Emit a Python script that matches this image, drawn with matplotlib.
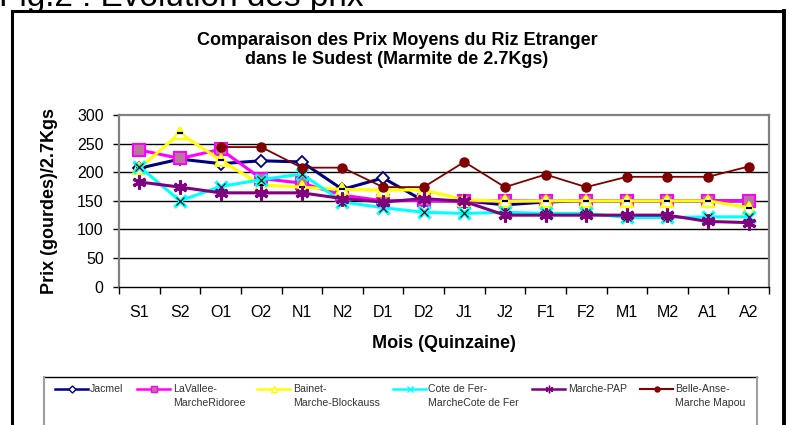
import matplotlib
matplotlib.use("Agg")
import matplotlib.pyplot as plt
from matplotlib.lines import Line2D
import numpy as np

plt.rcParams['font.family'] = ['Liberation Sans', 'DejaVu Sans']

periods = ["S1", "S2", "O1", "O2", "N1", "N2", "D1", "D2",
           "J1", "J2", "F1", "F2", "M1", "M2", "A1", "A2"]

jacmel = [207, 223, 215, 220, 218, 170, 190, 150, 150, 143, 148, 150, 150, 150, 150, 150]
lavallee = [239, 224, 240, 189, 181, 160, 150, 151, 149, 150, 150, 150, 150, 150, 150, 150]
bainet = [207, 268, 221, 178, 174, 170, 169, 169, 152, 149, 150, 150, 150, 150, 150, 138]
cotedefer = [210, 150, 175, 187, 197, 148, 138, 130, 128, 130, 128, 128, 121, 121, 122, 122]
pap = [183, 174, 164, 164, 164, 154, 148, 154, 149, 125, 125, 125, 125, 125, 114, 112]
belleanse = [np.nan, np.nan, 244, 244, 208, 208, 174, 174, 218, 174, 196, 174, 192, 192, 192, 210]

labels = ["Jacmel", "LaVallee-\nMarcheRidoree", "Bainet-\nMarche-Blockauss",
          "Cote de Fer-\nMarcheCote de Fer", "Marche-PAP", "Belle-Anse-\nMarche Mapou"]

title = "Comparaison des Prix Moyens du Riz Etranger\ndans le Sudest (Marmite de 2.7Kgs)"
ylabel = "Prix (gourdes)/2.7Kgs"
xlabel = "Mois (Quinzaine)"
fig_caption = "Fig.2 : Evolution des prix"

W, H = 789, 425
fig = plt.figure(figsize=(W / 100, H / 100), dpi=100)

def fx(px):
    return px / W

def fy(py):
    return 1 - py / H

ax = fig.add_axes([fx(119), fy(286.7), fx(769) - fx(119), fy(115) - fy(286.7)])

x = np.arange(len(periods))

styles = [
    dict(color="#000080", lw=2.2, marker="D", ms=6.5, mfc="white", mec="#000080", mew=1.3),
    dict(color="#FF00FF", lw=2.2, marker="s", ms=8, mfc="#B87898", mec="#FF00FF", mew=1.5),
    dict(color="#FFFF00", lw=2.2, marker="^", ms=9, mfc="white", mec="#FFFF00", mew=1.5),
    dict(color="#00FFFF", lw=2.2, marker="x", ms=8, mec="#00FFFF", mew=2.5),
    dict(color="#800080", lw=2.2, marker=(6, 2, 0), ms=10, mec="#800080", mew=2.2),
    dict(color="#800000", lw=1.3, marker="o", ms=6.5, mfc="#800000", mec="#800000", mew=1),
]
series = [jacmel, lavallee, bainet, cotedefer, pap, belleanse]

for i, (vals, st) in enumerate(zip(series, styles)):
    ax.plot(x, vals, zorder=3 + i, **st)
    if i == 2:
        ax.plot(x, vals, ls="none", marker="_", ms=5, mec="black", mew=1.6, zorder=3 + i)
    if i == 3:
        ax.plot(x, vals, ls="none", marker="x", ms=6, mec="black", mew=0.8, zorder=3 + i)

ax.set_xlim(-0.5, len(periods) - 0.5)
ax.set_ylim(0, 300)
ax.set_yticks(np.arange(0, 301, 50))
ax.set_xticks(np.arange(-0.5, len(periods), 1))
ax.set_xticklabels([])
ax.set_xticks(x, minor=True)
ax.set_xticklabels(periods, minor=True, fontsize=11.5)
ax.tick_params(axis="x", which="major", direction="out", length=5, width=1, color="black")
ax.tick_params(axis="x", which="minor", length=0, pad=13)
ax.tick_params(axis="y", direction="out", length=4, width=1, color="black", labelsize=11.5, pad=7)

for yv in range(50, 300, 50):
    ax.axhline(yv, color="black", lw=1, zorder=1)

for side in ["left", "top", "right"]:
    ax.spines[side].set_color("#808080")
    ax.spines[side].set_linewidth(1.6)
ax.spines["bottom"].set_color("black")
ax.spines["bottom"].set_linewidth(1)

ax.set_xlabel(xlabel, fontsize=13, fontweight="bold", labelpad=11)
ax.set_ylabel(ylabel, fontsize=13, fontweight="bold", labelpad=14)

fig.text(fx(397), fy(50), title, ha="center", va="center", fontsize=13,
         fontweight="bold", linespacing=1.15)

fig.text(fx(-1), fy(6), fig_caption, ha="left", va="baseline", fontsize=24)

# outer frame
fig.add_artist(Line2D([fx(12), fx(12)], [fy(11), fy(430)], color="black", lw=2.2))
fig.add_artist(Line2D([fx(12), fx(784)], [fy(11), fy(11)], color="black", lw=2.2))
fig.add_artist(Line2D([fx(784), fx(784)], [fy(11), fy(430)], color="black", lw=2.8))

# legend box
fig.add_artist(Line2D([fx(44), fx(757)], [fy(377), fy(377)], color="black", lw=1))
fig.add_artist(Line2D([fx(44), fx(44)], [fy(377), fy(430)], color="#A0A0A0", lw=1.5))
fig.add_artist(Line2D([fx(757), fx(757)], [fy(377), fy(430)], color="#A0A0A0", lw=1.5))

handle_x = [55, 137, 257, 393, 532, 640]
text_x = [90, 173, 293, 428, 568, 675]
for i, (lab, st) in enumerate(zip(labels, styles)):
    hx0 = handle_x[i]
    hx1 = hx0 + 33
    st2 = dict(st)
    st2["lw"] = 1.8 if i != 5 else 1.5
    st2["ms"] = st["ms"] * 0.55
    st2["mew"] = 1.0
    fig.add_artist(Line2D([fx(hx0), fx(hx1)], [fy(389), fy(389)], **{k: v for k, v in st2.items() if k != "marker"}))
    fig.add_artist(Line2D([fx((hx0 + hx1) / 2)], [fy(389)], ls="none", **{k: v for k, v in st2.items() if k not in ("lw",)}))
    fig.text(fx(text_x[i]), fy(384), lab, ha="left", va="top", fontsize=7.6,
             color="#333333", linespacing=1.45)

fig.savefig("out.png", dpi=100)
